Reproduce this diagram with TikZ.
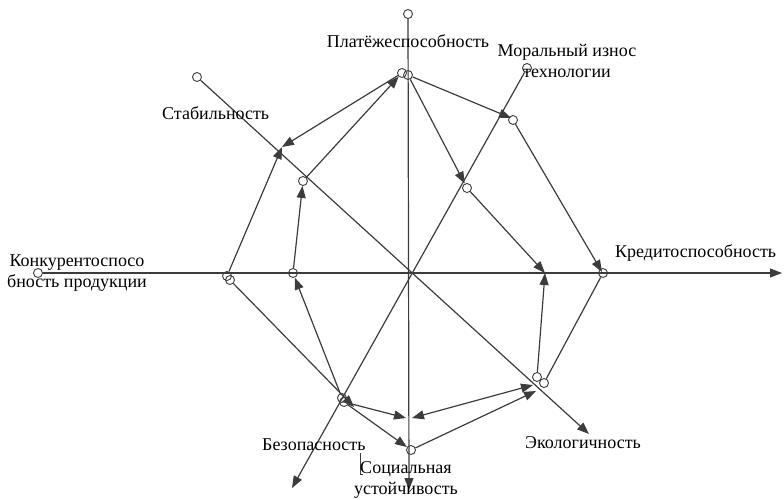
\documentclass[tikz,border=0pt]{standalone}
\usepackage{fontspec}
\setmainfont{Liberation Serif}
\usetikzlibrary{arrows.meta}
\definecolor{Ink}{HTML}{3C3C3C}

\begin{document}
\begin{tikzpicture}[x=1pt,y=-1pt,
    port/.style={circle,draw=Ink,line width=0.9pt,inner sep=0pt,minimum size=9pt},
    wire/.style={draw=Ink,line width=1.2pt},
    link/.style={wire,-{Triangle[length=12pt,width=9pt]}},
    twoway/.style={wire,{Triangle[length=12pt,width=9pt]}-{Triangle[length=12pt,width=9pt]}},
    axisname/.style={font=\fontsize{18}{21}\selectfont,inner sep=0pt,align=center}]
    \useasboundingbox (0,0) rectangle (784,499);

    % axes
    \node[port] (vtop) at (408,14) {};
    \node[port] (hleft) at (38,273) {};
    \node[port] (dAtop) at (197,77) {};
    \node[port] (dBtop) at (527,68) {};
    \coordinate (vend) at (409,490);
    \coordinate (hend) at (782,273);
    \coordinate (dAend) at (589,434);
    \coordinate (dBend) at (292,488);

    % outer ring
    \node[port] (T1) at (402,73) {};
    \node[port] (T2) at (408,75) {};
    \node[port] (UR) at (513,120) {};
    \node[port] (R) at (603,273) {};
    \node[port] (LRa) at (537,377) {};
    \node[port] (LRb) at (544,383) {};
    \node[port] (B) at (411,450) {};
    \node[port] (LLa) at (342,398) {};
    \node[port] (LLb) at (344,402) {};
    \node[port] (La) at (227,276) {};
    \node[port] (Lb) at (230,280) {};
    \coordinate (UL) at (282,147);
    \coordinate (URtip) at (511,118);
    \coordinate (Rtip) at (602,272);
    \coordinate (LLtip) at (354,407);
    \coordinate (LRlow) at (536,391);
    \coordinate (LRmid) at (533,385);

    % inner ring
    \node[port] (IUR) at (467,188) {};
    \node[port] (IL) at (293,273) {};
    \node[port] (IUL) at (303,181) {};
    \coordinate (IR) at (545,273);
    \coordinate (IBl) at (406,418);
    \coordinate (IBr) at (412,418);

    \draw[link] (vtop) -- (vend);
    \draw[link] (hleft) -- (hend);
    \draw[link] (dAtop) -- (dAend);
    \draw[link] (dBtop) -- (dBend);

    \draw[link] (T2) -- (URtip);
    \draw[link] (UR) -- (Rtip);
    \draw[wire] (R) -- (LRb);
    \draw[link] (B) -- (LRlow);
    \draw[twoway] (IBr) -- (LRmid);
    \draw[link] (LLb) -- (B);
    \draw[link] (Lb) -- (LLtip);
    \draw[link] (La) -- (UL);
    \draw[link] (T1) -- (UL);

    \draw[link] (T2) -- (IUR);
    \draw[link] (IUR) -- (IR);
    \draw[link] (LRa) -- (IR);
    \draw[link] (LLb) -- (IBl);
    \draw[link] (LLa) -- (IL);
    \draw[link] (IL) -- (IUL);
    \draw[link] (IUL) -- (T1);

    \draw[Ink,line width=0.8pt] (360,453) -- (360,474) -- (363,474);

    % labels
    \node[axisname,anchor=base] (tPay) at (408,47) {Платёжеспособность};
    \node[axisname,anchor=base] (tTech) at (567,77) {Моральный износ\\технологии};
    \node[axisname,anchor=base west] (tStab) at (162,119) {Стабильность};
    \node[axisname,anchor=base] (tComp) at (77,287) {Конкурентоспосо\\бность продукции};
    \node[axisname,anchor=base west] (tCred) at (615,257) {Кредитоспособность};
    \node[axisname,anchor=base west] (tEco) at (525,448) {Экологичность};
    \node[axisname,anchor=base west] (tSafe) at (262,450) {Безопасность};
    \node[axisname,anchor=base] (tSoc) at (406,494) {Социальная\\устойчивость};
  \end{tikzpicture}
\end{document}
